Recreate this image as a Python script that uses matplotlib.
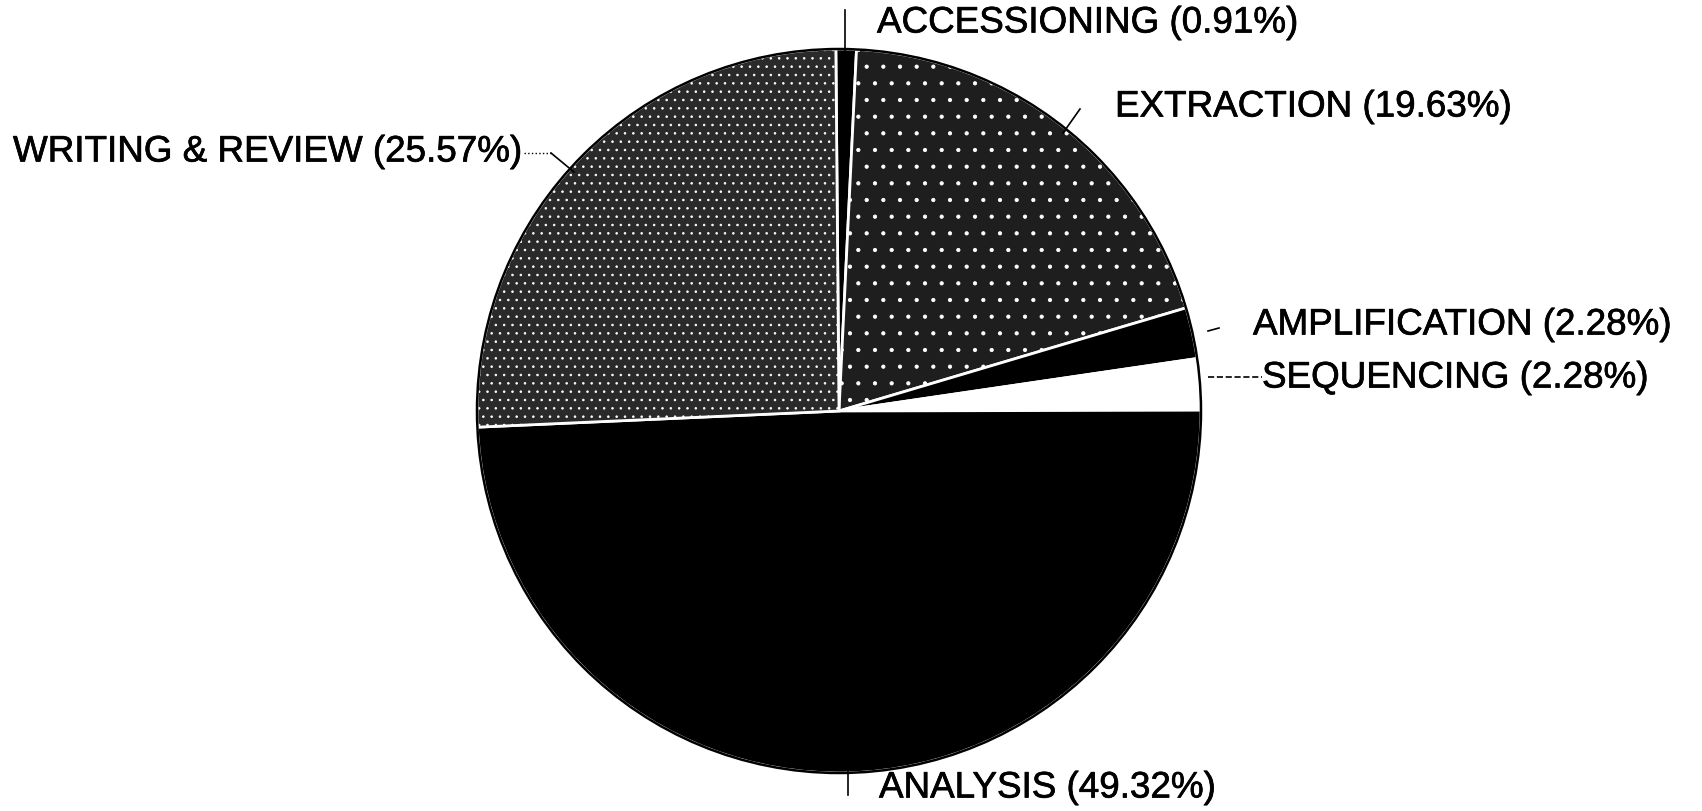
import matplotlib.pyplot as plt
import matplotlib.patheffects as pe
from matplotlib.patches import Circle

# share of time per lab stage, clockwise from 12 o'clock
stages = ['ACCESSIONING', 'EXTRACTION', 'AMPLIFICATION', 'SEQUENCING',
          'ANALYSIS', 'WRITING & REVIEW']
percents = [0.91, 19.63, 2.28, 2.28, 49.32, 25.57]
fills = ['#000000', '#1e1e1e', '#000000', '#ffffff', '#000000', '#2a2a2a']
hatches = [None, '.', None, None, None, '..']

plt.rcParams['font.family'] = ['Liberation Sans', 'DejaVu Sans']
plt.rcParams['hatch.linewidth'] = 0.6

W, H = 1702, 812
fig = plt.figure(figsize=(W / 100, H / 100), dpi=100)
ax = fig.add_axes([0, 0, 1, 1])

cx, cy, r = 839, 412, 362

# y axis is flipped, so counterclock=True runs clockwise on screen
# and startangle=-90 points to the top
wedges, _ = ax.pie(percents, colors=fills, startangle=-90.5, counterclock=True,
                   center=(cx, cy), radius=r, frame=True,
                   wedgeprops=dict(edgecolor='white', linewidth=2))
for w, h in zip(wedges, hatches):
    if h:
        w.set_hatch(h)
ax.set_xlim(0, W)
ax.set_ylim(H, 0)
ax.set_aspect('equal')
ax.axis('off')
ax.add_patch(Circle((cx, cy), r, fill=False, edgecolor='black', linewidth=1.8))

fs = 26.5
heavy = [pe.withStroke(linewidth=0.5, foreground='black')]
# label index, left edge, vertical centre, leader points, leader style
labels = [
    (0, 877, 24, [(845, 11), (845, 52)], '-'),
    (1, 1115, 108, [(1080, 110), (1063, 134)], '-'),
    (2, 1253, 326, [(1208, 332), (1219, 329)], '-'),
    (3, 1262, 379, [(1208, 378), (1262, 378)], '--'),
    (4, 879, 789, [(848, 773), (848, 796)], '-'),
]
for i, x, y, line, ls in labels:
    txt = f'{stages[i]} ({percents[i]:.2f}%)'
    ax.text(x, y, txt, fontsize=fs, ha='left', va='center', path_effects=heavy)
    ax.plot([p[0] for p in line], [p[1] for p in line], color='black',
            linewidth=1.2, linestyle=ls)

# writing & review sits on the left with a bent leader
ax.text(13, 153, f'{stages[5]} ({percents[5]:.2f}%)', fontsize=fs,
        ha='left', va='center', path_effects=heavy)
ax.plot([524, 551], [154, 154], color='black', linewidth=1, linestyle=':')
ax.plot([551, 574], [154, 173], color='black', linewidth=1.2)

fig.savefig('out.png', dpi=100, facecolor='white')
